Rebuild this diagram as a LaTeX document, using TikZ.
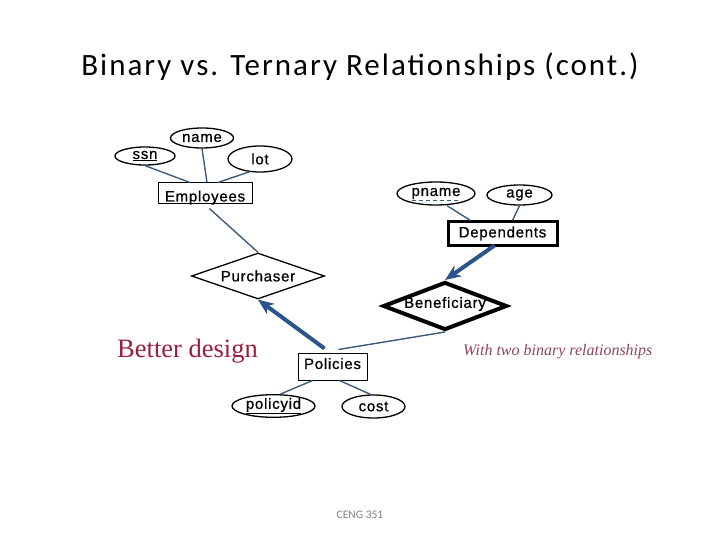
\documentclass[tikz,border=0pt]{standalone}
\usepackage{fontspec}
\usetikzlibrary{shapes.geometric,arrows.meta,calc}
\newfontfamily\erf[LetterSpace=5,FakeBold=0.8]{Liberation Sans}
\newfontfamily\titlef[LetterSpace=6.5]{Carlito}
\newfontfamily\footf{Carlito}
\newfontfamily\serf{Liberation Serif}
\definecolor{conn}{RGB}{61,92,125}
\definecolor{thickblue}{RGB}{44,84,140}
\definecolor{bettercol}{RGB}{155,30,62}
\definecolor{withcol}{RGB}{140,72,88}
\tikzset{
  erlabel/.style={font=\erf\fontsize{15}{17}\selectfont},
  attr/.style={ellipse,draw=black,line width=1.3pt,inner sep=0pt,erlabel},
  ent/.style={rectangle,draw=black,line width=1pt,inner sep=0pt,erlabel},
  rel/.style={diamond,draw=black,inner sep=0pt},
  thin/.style={draw=conn,line width=1.4pt},
  thickarrow/.style={draw=thickblue,line width=4pt,-{Stealth[length=16pt,width=13pt]}},
}
\begin{document}
\begin{tikzpicture}[x=1pt,y=-1pt]
\useasboundingbox[fill=white] (0,0) rectangle (720,540);
% title
\node[anchor=base,font=\titlef\fontsize{31}{35}\selectfont] (title) at (360,76) {Binary vs. Ternary Relationships (cont.)};
% attributes of Employees
\node[attr,minimum width=60pt,minimum height=18pt] (ssn) at (145,156) {\underline{ssn}};
\node[attr,minimum width=63pt,minimum height=20pt] (name) at (202,138) {name};
\node[attr,minimum width=64pt,minimum height=26pt] (lot) at (260,159) {lot};
\node[ent,minimum width=94pt,minimum height=21pt,text height=16pt,text depth=0pt] (emp) at (205,193.5) {Employees};
% Dependents
\node[attr,minimum width=78pt,minimum height=23pt] (pname) at (436,193.5) {pname};
\draw[conn,dashed,dash pattern=on 4pt off 3pt,line width=1.2pt] ($(pname.center)+(-24,7)$) -- ($(pname.center)+(24,7)$);
\node[attr,minimum width=65pt,minimum height=20pt] (age) at (519.5,195) {age};
\node[ent,line width=3pt,minimum width=109pt,minimum height=23pt] (dep) at (502.5,233.5) {Dependents};
% relationships
\node[rel,line width=1.3pt,minimum width=133pt,minimum height=46pt,label={[erlabel]center:Purchaser}] (pur) at (258,276) {};
\node[rel,line width=4pt,minimum width=124pt,minimum height=48pt,label={[erlabel,yshift=2pt]center:Beneficiary}] (ben) at (445,306) {};
% Policies
\node[ent,minimum width=69pt,minimum height=27pt,text height=11pt,text depth=6pt] (pol) at (332.5,366.5) {Policies};
\node[attr,minimum width=83pt,minimum height=22pt] (pid) at (273.5,406) {\underline{policyid}};
\node[attr,minimum width=63pt,minimum height=23pt] (cost) at (373.5,406.5) {cost};
% texts
\node[anchor=base west,font=\serf\fontsize{26.5}{30}\selectfont,text=bettercol,inner sep=0pt] (better) at (117,357) {Better design};
\node[anchor=base west,font=\serf\itshape\fontsize{16}{18}\selectfont,text=withcol,inner sep=0pt] (with) at (463,355) {With two binary relationships};
\node[font=\footf\fontsize{11.5}{13}\selectfont,text=gray] (footer) at (360,515) {CENG 351};
% connectors
\draw[thin] (ssn.south) -- ([xshift=-15pt]emp.north);
\draw[thin] (name.south) -- ([xshift=2pt]emp.north);
\draw[thin] (lot.230) -- ([xshift=13pt]emp.north);
\draw[thin,shorten <=6pt] (emp.south) -- (pur.north);
\draw[thin] ([xshift=11pt]pname.south) -- ([xshift=-32pt]dep.north);
\draw[thin] (age.south) -- ([xshift=10pt]dep.north);
\draw[thickarrow] ([xshift=-8pt,yshift=1pt]dep.south) -- (ben.north);
\draw[thickarrow] ([xshift=-8pt,yshift=4pt]pol.north) -- (pur.south);
\draw[thin] ([xshift=6pt,yshift=3pt]pol.north) -- (ben.south);
\draw[thin] ([xshift=-20pt]pol.south) -- ([xshift=7pt]pid.north);
\draw[thin] ([xshift=7pt]pol.south) -- ([xshift=-3pt]cost.north);
\end{tikzpicture}
\end{document}
